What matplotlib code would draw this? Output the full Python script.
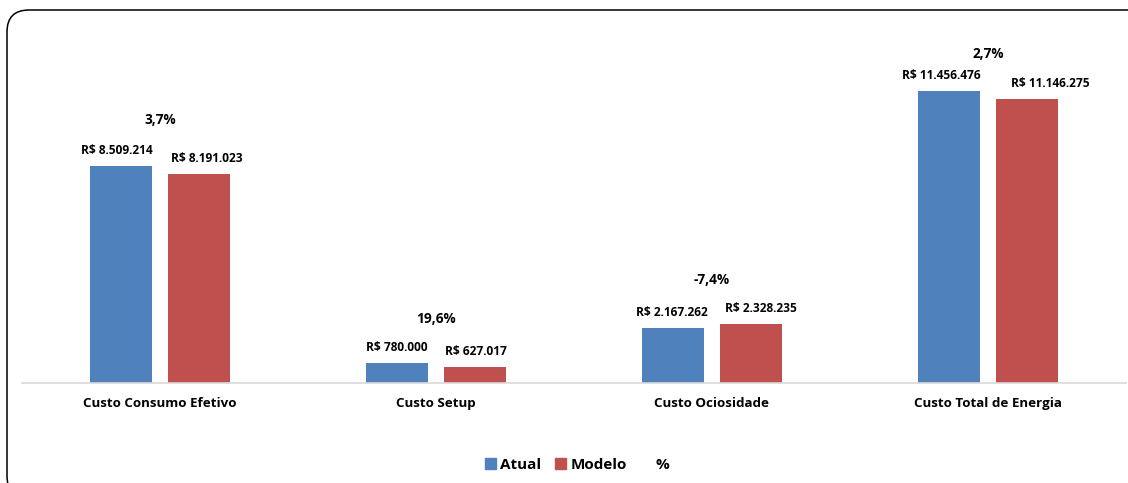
import numpy as np
import matplotlib.pyplot as plt
from matplotlib.patches import FancyBboxPatch, Patch
from matplotlib.lines import Line2D

plt.rcParams["font.family"] = ["Open Sans", "DejaVu Sans"]

categorias = ["Custo Consumo Efetivo", "Custo Setup", "Custo Ociosidade", "Custo Total de Energia"]
atual = [8509214, 780000, 2167262, 11456476]
modelo = [8191023, 627017, 2328235, 11146275]
percentual = [3.7, 19.6, -7.4, 2.7]

cor_atual = "#4F81BD"
cor_modelo = "#C0504D"

# deslocamentos manuais dos rótulos (em pixels)
dx_atual = [-4, 0, -1, -8]
dx_modelo = [8, 1, 10, 23]
dy_pct = [46, 44, 44, 37]


def reais(v):
    return "R$ " + f"{v:,.0f}".replace(",", ".")


fig = plt.figure(figsize=(11.28, 4.83), dpi=100)
W, H = 1128, 483
px = 72 / 100

# moldura arredondada
moldura = FancyBboxPatch((7 / 100, -15 / 100), (1150 - 7) / 100, (H - 10 + 15) / 100,
                         boxstyle="round,pad=0,rounding_size=0.22",
                         transform=fig.dpi_scale_trans, fill=False,
                         edgecolor="black", linewidth=1.1, clip_on=False)
fig.patches.append(moldura)

ax = fig.add_axes([22 / W, 100 / H, 1104 / W, 363 / H])
x = np.arange(len(categorias))
larg = 0.225
desl = 0.141

b1 = ax.bar(x - desl, atual, larg, color=cor_atual)
b2 = ax.bar(x + desl, modelo, larg, color=cor_modelo)

ax.set_xlim(-0.5, len(categorias) - 0.5)
ax.set_ylim(0, 14.23e6)

for barras, vals, dxs in ((b1, atual, dx_atual), (b2, modelo, dx_modelo)):
    for b, v, dx in zip(barras, vals, dxs):
        ax.annotate(reais(v), (b.get_x() + b.get_width() / 2, v),
                    xytext=(dx * px, 6.5), textcoords="offset points",
                    ha="center", va="bottom", fontsize=8.6, fontweight="bold")

for xi, a, m, p, dy in zip(x, atual, modelo, percentual, dy_pct):
    ax.annotate(f"{p:.1f}%".replace(".", ","), (xi, max(a, m)),
                xytext=(0, dy * px - 5), textcoords="offset points",
                ha="center", va="bottom", fontsize=9.8, fontweight="bold")

for s in ("top", "right", "left"):
    ax.spines[s].set_visible(False)
ax.spines["bottom"].set_color("#d9d9d9")
ax.spines["bottom"].set_linewidth(1.2)
ax.set_yticks([])
ax.set_xticks(x)
ax.set_xticklabels(categorias, fontsize=9.6, fontweight="bold")
ax.tick_params(axis="x", length=0, pad=10)

handles = [Patch(color=cor_atual), Patch(color=cor_modelo),
           Line2D([], [], linestyle="none")]
fig.legend(handles, ["Atual", "Modelo", "%"], loc="center",
           bbox_to_anchor=(577 / W, 1 - 465 / H), ncol=3, frameon=False,
           handlelength=0.75, handleheight=0.75, handletextpad=0.25,
           columnspacing=0.9, prop={"size": 11, "weight": "bold"})

fig.savefig("out.png", dpi=100)
